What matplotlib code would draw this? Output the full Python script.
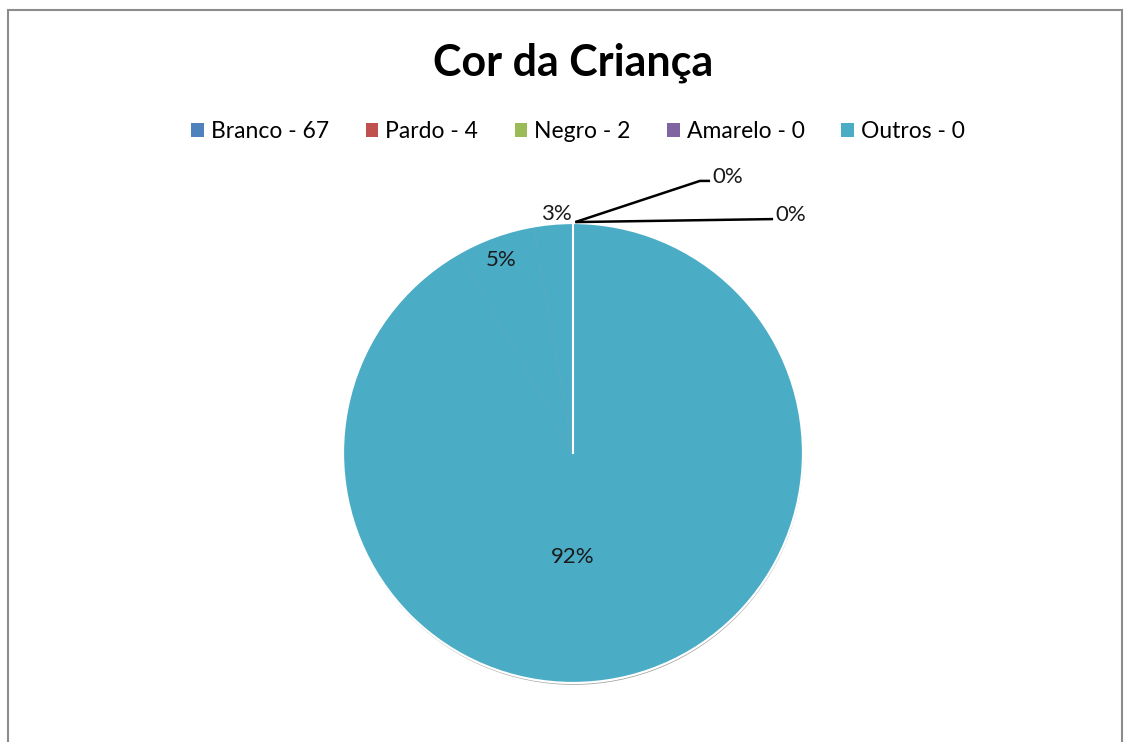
import matplotlib.pyplot as plt
from matplotlib.patches import Patch, Circle, Rectangle

plt.rcParams['font.family'] = ['Lato', 'DejaVu Sans']

# data
categories = ['Branco', 'Pardo', 'Negro', 'Amarelo', 'Outros']
counts = [67, 4, 2, 0, 0]
legend_colors = ['#4F81BD', '#C0504D', '#9BBB59', '#8064A2', '#4BACC6']
pie_color = '#4BACC6'   # the reference draws every slice in this one colour

total = sum(counts)
pct_labels = ['%d%%' % round(c * 100.0 / total) for c in counts]

W, H = 1129, 742
cx, cy, R = 573, 453, 230   # pie centre / radius in pixels

fig = plt.figure(figsize=(W / 100, H / 100), dpi=100)
ax = fig.add_axes([0, 0, 1, 1])

# soft shadow behind the pie
ax.add_patch(Circle((0.002, -0.008), 1.0, facecolor='#555555', edgecolor='none',
                    alpha=0.55, zorder=0))

# zero slices are dropped by pie, keep only nonzero ones for wedges
vals = [c for c in counts if c > 0]
wedges, _ = ax.pie(vals, colors=[pie_color] * len(vals), startangle=90,
                   counterclock=False, radius=1,
                   wedgeprops=dict(linewidth=0, zorder=1))

# white rim and the white divider at the start angle
ax.add_patch(Circle((0, 0), 1, fill=False, edgecolor='white', lw=1.6, zorder=3))
ax.plot([0, 0], [0, 1], color='white', lw=1.5, zorder=3)

ax.set_xlim(-cx / R, (W - cx) / R)
ax.set_ylim((cy - H) / R, cy / R)
ax.axis('off')

# label positions (pie units)
inside_pos = [(0.0, -0.452), (-0.313, 0.839), (-0.074, 1.039)]
for i, (x, y) in enumerate(inside_pos):
    ax.text(x, y, pct_labels[i], fontsize=16, ha='center', va='center', color='#1a1a1a', zorder=4)

# zero-value labels with leader lines
tip = (0.01, 1.004)
leaders = [((0.552, 1.183), 0.596), ((0.865, 1.017), 0.87)]
for k, ((kx, ky), ex) in enumerate(leaders):
    ax.plot([tip[0], kx, ex], [tip[1], ky, ky], color='black', lw=1.8, zorder=4,
            solid_capstyle='butt')
    ax.text(ex + 0.012, ky - 0.01, pct_labels[3 + k], fontsize=16, ha='left',
            va='baseline', color='#1a1a1a', zorder=4)

fig.text(573 / W, 1 - 63 / H, 'Cor da Criança', fontsize=31, fontweight='bold',
         ha='center', va='center')

handles = [Patch(facecolor=c, edgecolor='none') for c in legend_colors]
labels = ['%s - %d' % (n, v) for n, v in zip(categories, counts)]
fig.legend(handles, labels, loc='center', bbox_to_anchor=(578 / W, 1 - 132 / H),
           ncol=5, frameon=False, fontsize=16.5, handlelength=0.55, handleheight=0.55,
           handletextpad=0.3, columnspacing=1.6)

# outer chart border
fig.patches.append(Rectangle((8 / W, -0.01), (1122 - 8) / W, 1 - 10 / H + 0.01,
                             transform=fig.transFigure, fill=False,
                             edgecolor='#8c8c8c', lw=1.5))

fig.savefig('out.png', dpi=100)
